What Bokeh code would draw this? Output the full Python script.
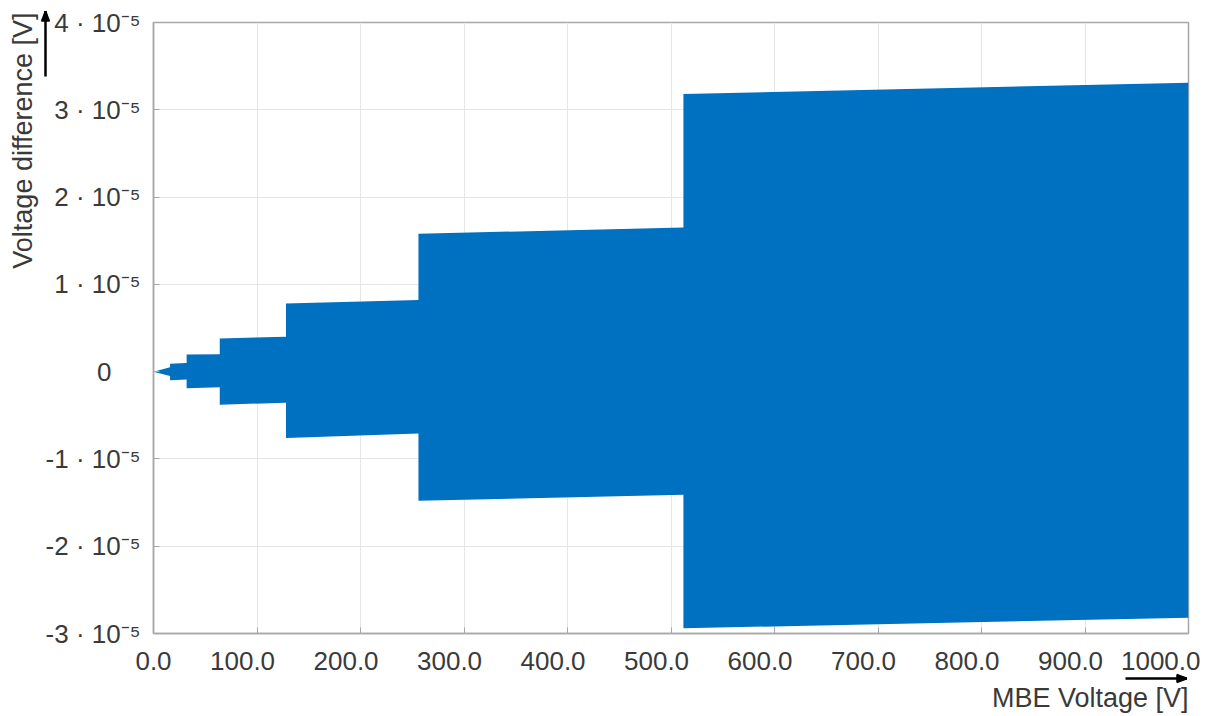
import math
from bokeh.plotting import figure
from bokeh.models import (Range1d, FixedTicker, CustomJSTickFormatter, Title,
                          Arrow, NormalHead, ColumnDataSource)
from bokeh.embed import file_html
from bokeh.resources import INLINE

# ---- data (voltage difference in V) ----
seg_edges = [0, 16, 32, 64, 128, 256, 512, 1000]          # MBE voltage [V]
top_start = [0.0, 0.09, 0.195, 0.38, 0.78, 1.58, 3.18]     # x 1e-5 V
top_end = [0.05, 0.10, 0.20, 0.40, 0.82, 1.65, 3.31]
bot_start = [0.0, -0.10, -0.19, -0.38, -0.76, -1.48, -2.94]
bot_end = [-0.05, -0.09, -0.18, -0.355, -0.71, -1.41, -2.82]
scale = 1e-5

x_ticks = [0, 100, 200, 300, 400, 500, 600, 700, 800, 900, 1000]
y_ticks = [-3e-5, -2e-5, -1e-5, 0.0, 1e-5, 2e-5, 3e-5, 4e-5]

xs, y_hi, y_lo = [], [], []
for i in range(len(seg_edges) - 1):
    xs += [seg_edges[i], seg_edges[i + 1]]
    y_hi += [top_start[i] * scale, top_end[i] * scale]
    y_lo += [bot_start[i] * scale, bot_end[i] * scale]
src = ColumnDataSource(dict(x=xs, y1=y_lo, y2=y_hi))

FONT = "Liberation Sans"
TXT = "#3a3a3a"
FS = "26px"

p = figure(width=1200, height=716, output_backend="svg", toolbar_location=None,
           x_range=Range1d(0, 1000), y_range=Range1d(-3e-5, 4e-5),
           min_border_left=153, min_border_right=12, min_border_top=22,
           min_border_bottom=83)
p.background_fill_color = "white"
p.border_fill_color = "white"
p.outline_line_color = "#a8a8a8"
p.outline_line_width = 1.5

p.varea(x="x", y1="y1", y2="y2", source=src, fill_color="#0070C0")

p.xaxis.ticker = FixedTicker(ticks=x_ticks)
p.yaxis.ticker = FixedTicker(ticks=y_ticks)
p.xaxis.formatter = CustomJSTickFormatter(code="""
  const fs = "\\u2007";
  if (tick == 0) return "0.0";
  if (tick == 1000) return "1000.0";
  return tick.toFixed(1) + fs.repeat(2);
""")
p.yaxis.formatter = CustomJSTickFormatter(code="""
  const n = Math.round(tick * 1e5);
  if (n == 0) return "0\\u2007\\u2007";
  return n + " \\u00b7 10\\u207b\\u2075";
""")

for ax in (p.xaxis[0], p.yaxis[0]):
    ax.axis_line_color = "#a8a8a8"
    ax.axis_line_width = 1.5
    ax.major_tick_line_color = "#a8a8a8"
    ax.major_tick_in = 6
    ax.major_tick_out = 0
    ax.minor_tick_line_color = None
    ax.major_label_text_font = FONT
    ax.major_label_text_font_size = FS
    ax.major_label_text_color = TXT
p.xaxis.major_label_standoff = 12
p.yaxis.major_label_standoff = 13

p.grid.grid_line_color = "#e6e6e6"
p.grid.grid_line_width = 1

# axis titles
p.add_layout(Title(text="Voltage difference [V]", align="right", standoff=9, offset=-10,
                   text_font=FONT, text_font_size="27px", text_font_style="normal",
                   text_color=TXT), "left")
p.add_layout(Title(text="MBE Voltage [V]", align="right", standoff=5,
                   text_font=FONT, text_font_size="27px", text_font_style="normal",
                   text_color=TXT), "below")

# direction arrows beside the axis titles (screen px relative to the frame's
# bottom-left corner). Outside the frame only the part of an arrow body that
# lies inside its head region is shown, so the head size sets the drawn length.
def arrow_piece(tx, ty, ux, uy, length, width):
    back = length + 20
    a = Arrow(x_start=tx - back * ux, y_start=ty - back * uy, x_end=tx, y_end=ty)
    a.start_units = a.end_units = "screen"
    a.line_color = "black"
    a.line_width = width
    a.line_cap = "butt"
    a.end = NormalHead(size=length, fill_alpha=0, line_alpha=0)
    p.add_layout(a)

def direction_arrow(tx, ty, vertical, length):
    arrow_piece(tx, ty, 0 if vertical else 1, 1 if vertical else 0, length, 2.5)
    # the tip: a fan of short strokes forming a small filled triangle
    for deg in range(-21, 22, 6):
        t = math.radians(deg)
        if vertical:
            ux, uy = -math.sin(t), math.cos(t)
        else:
            ux, uy = math.cos(t), math.sin(t)
        arrow_piece(tx, ty, ux, uy, 10 / math.cos(t), 2)

direction_arrow(-108, 622, True, 65)
direction_arrow(1033, -45, False, 61)

open("out.html", "w").write(file_html(p, INLINE))
